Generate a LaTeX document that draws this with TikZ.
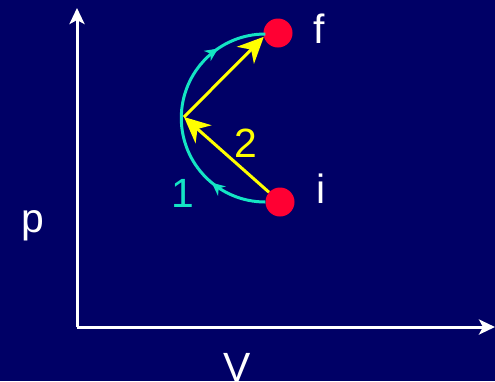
\documentclass[tikz,border=0pt]{standalone}
\usepackage{fontspec}
\setmainfont{Liberation Sans}
\usetikzlibrary{arrows.meta,decorations.markings}
\definecolor{fundo}{RGB}{0,0,102}
\definecolor{ciano}{RGB}{20,228,196}
\definecolor{vermelho}{RGB}{255,0,51}
\definecolor{amarelo}{RGB}{255,255,0}
\begin{document}
\begin{tikzpicture}[x=1bp, y=-1bp, >={Stealth[length=16bp, width=15bp, inset=4bp]},
  rotulo/.style={font=\fontsize{41}{48}\selectfont, anchor=base},
  estado/.style={circle, fill=vermelho, minimum size=29bp, inner sep=0pt}]
\fill[fundo, use as bounding box] (0,0) rectangle (495,381);
% eixos p-V
\coordinate (o) at (77,327);
\coordinate (ytopo) at (77,8);
\coordinate (xfim) at (495,327);
\draw[->, white, line width=3bp] (o) -- (ytopo);
\draw[->, white, line width=3bp] (o) -- (xfim);
\node[rotulo, white] (lp) at (33,232) {p};
\node[rotulo, white] (lV) at (237,381) {V};
% estados inicial e final
\node[estado] (i) at (280,202) {};
\node[estado] (f) at (278,33) {};
\node[rotulo, white] (li) at (321,203) {i};
\node[rotulo, white] (lf) at (319,43) {f};
% caminho 1 (arco)
\draw[ciano, line width=3bp, postaction={decorate},
  decoration={markings,
    mark=at position 0.22 with {\arrow{Stealth[length=13bp, width=12bp, inset=4bp]}},
    mark=at position 0.81 with {\arrow{Stealth[length=13bp, width=12bp, inset=4bp]}}}]
  (i.west) arc[start angle=90, end angle=270, radius=84];
\node[rotulo, ciano] (l1) at (183,207) {1};
% caminho 2 (dois segmentos)
\coordinate (m) at (184,117);
\draw[->, amarelo, line width=3bp, >={Stealth[length=26bp, width=24bp, inset=8bp]}] (i) -- (m);
\draw[->, amarelo, line width=3bp, >={Stealth[length=26bp, width=24bp, inset=8bp]}] (m) -- (f.195);
\node[rotulo, amarelo] (l2) at (246,157) {2};
\end{tikzpicture}
\end{document}
